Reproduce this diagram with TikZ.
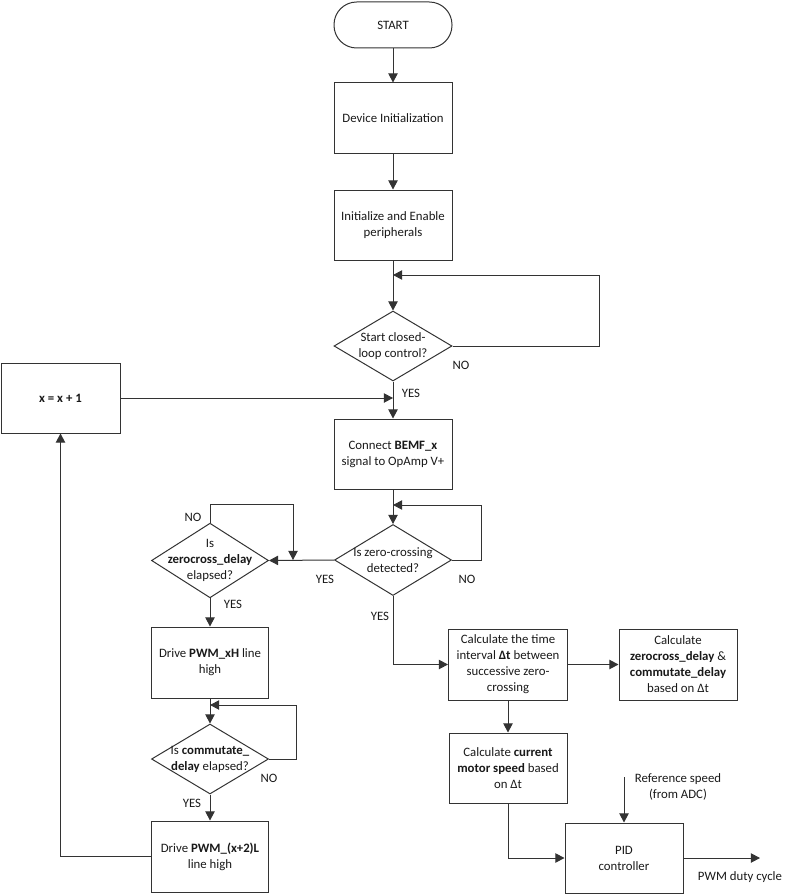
\documentclass[tikz,border=0pt]{standalone}
\usepackage{fontspec}
\setmainfont{Carlito}
\usetikzlibrary{arrows.meta,shapes.geometric}
\tikzset{
  every node/.style={font=\fontsize{9.6}{12}\selectfont, text=black!90},
  ln/.style={draw=black!80, line width=0.75pt},
  arr/.style={ln, -{Triangle[length=6.8pt,width=7pt]}},
  box/.style={draw=black!80, line width=0.75pt, rectangle, align=center, inner sep=1pt},
  dia/.style={draw=black!80, line width=0.75pt, diamond, inner sep=0pt},
  lbl/.style={inner sep=0pt}
}
\begin{document}
\begin{tikzpicture}[x=0.75pt,y=-0.75pt]
\useasboundingbox (0,0) rectangle (792,895);
% nodes
\node[box, rounded corners=17pt, minimum width=88.5pt, minimum height=34.5pt] (start) at (393,25) {START};
\node[box, minimum width=88.5pt, minimum height=53.25pt] (dev) at (393,118.5) {Device Initialization};
\node[box, minimum width=88.5pt, minimum height=52.5pt] (init) at (393,225) {Initialize and Enable\\peripherals};
\node[dia, minimum width=88.5pt, minimum height=52.5pt] (d1) at (393,346) {};
\node[lbl, align=center] at (d1) {Start closed-\\loop control?};
\node[box, minimum width=89.25pt, minimum height=52.5pt] (inc) at (60.5,398) {\textbf{x = x + 1}};
\node[box, minimum width=88.5pt, minimum height=52.5pt] (conn) at (393,454) {Connect \textbf{BEMF\_x}\\signal to OpAmp V+};
\node[dia, minimum width=87.75pt, minimum height=53.25pt] (d2) at (393,560) {};
\node[lbl, align=center] at (d2) {Is zero-crossing\\detected?};
\node[dia, minimum width=87.75pt, minimum height=56pt] (d3) at (210,560.5) {};
\node[lbl, align=center] at (d3) {Is\\\textbf{zerocross\_delay}\\elapsed?};
\node[box, minimum width=87.75pt, minimum height=53.25pt] (pwmh) at (210,662.5) {Drive \textbf{PWM\_xH} line\\high};
\node[dia, minimum width=87.75pt, minimum height=52.5pt] (d4) at (210,759) {};
\node[lbl, align=center] at (d4) {Is \textbf{commutate\_}\\\textbf{delay} elapsed?};
\node[box, minimum width=87.75pt, minimum height=53.25pt] (pwml) at (210,856.5) {Drive \textbf{PWM\_(x+2)L}\\line high};
\node[box, minimum width=89.25pt, minimum height=53.25pt] (calct) at (508,664.5) {Calculate the time\\interval \textbf{Δt} between\\successive zero-\\crossing};
\node[box, minimum width=88.5pt, minimum height=53.25pt] (calcz) at (678,664.5) {Calculate\\\textbf{zerocross\_delay} \&\\\textbf{commutate\_delay}\\based on Δt};
\node[box, minimum width=88.5pt, minimum height=52.5pt] (speed) at (508,768) {Calculate \textbf{current}\\\textbf{motor speed} based\\on Δt};
\node[box, minimum width=88.5pt, minimum height=52.5pt] (pid) at (624,858) {PID\\controller};
% coordinates
\coordinate (m1) at (393,275);
\coordinate (j1) at (393,398);
\coordinate (m2) at (393,505);
\coordinate (m3) at (293,560);
\coordinate (m4) at (210,705);
\coordinate (ref) at (624,777);
\coordinate (out) at (760,858);
% labels
\node[lbl] (no1) at (461,365) {NO};
\node[lbl] (yes1) at (411,393) {YES};
\node[lbl] (no2) at (467,579) {NO};
\node[lbl] (yes2) at (325,579) {YES};
\node[lbl] (no3) at (193,517) {NO};
\node[lbl] (yes3) at (233,604) {YES};
\node[lbl] (no4) at (269,778) {NO};
\node[lbl] (yes4) at (192,803) {YES};
\node[lbl] (yes5) at (380,616) {YES};
\node[lbl, align=center] (reft) at (678,787) {Reference speed\\(from ADC)};
\node[lbl] (pwmt) at (740,877) {PWM duty cycle};
% connectors
\draw[arr] (start) -- (dev);
\draw[arr] (dev) -- (init);
\draw[arr] (init) -- (d1.north);
\draw[arr] (d1.east) -- ++(147,0) |- (m1);
\draw[arr] (d1.south) -- (conn);
\draw[arr] (inc.east |- j1) -- (j1);
\draw[arr] (conn) -- (d2.north);
\draw[arr] (d2.east) -- ++(29,0) |- (m2);
\draw[arr] (d2.west) -- (d3.east);
\draw[arr] (d3.north) |- ++(0,-18) -| (m3);
\draw[arr] (d3.south) -- (pwmh);
\draw[arr] (pwmh) -- (d4.north);
\draw[arr] (d4.east) -- ++(27,0) |- (m4);
\draw[arr] (d4.south) -- (pwml);
\draw[arr] (pwml.west) -| (inc.south);
\draw[arr] (d2.south) |- (calct.west);
\draw[arr] (calct) -- (calcz);
\draw[arr] (calct) -- (speed);
\draw[arr] (speed.south) |- (pid.west);
\draw[arr] (ref) -- (pid.north);
\draw[arr] (pid.east) -- (out);
\end{tikzpicture}
\end{document}
